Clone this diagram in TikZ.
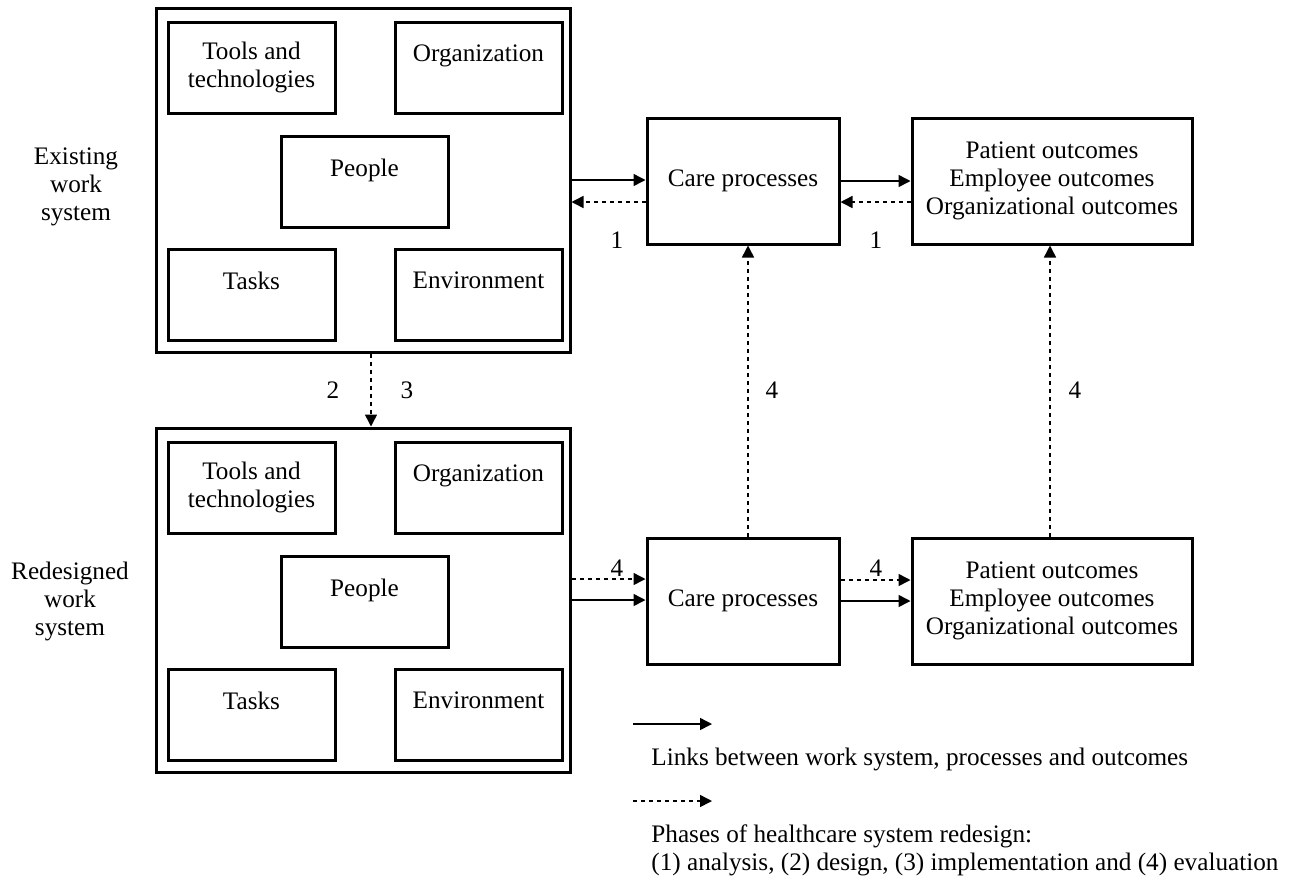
\documentclass[tikz,border=0pt]{standalone}
\usepackage{fontspec}
\setmainfont{Liberation Serif}
\usetikzlibrary{arrows.meta,calc,positioning}

\begin{document}
\begin{tikzpicture}[x=.5pt,y=-.5pt,>={Triangle[length=6pt,width=6pt]},
 outbox/.style={draw,line width=1.5pt,minimum width=207pt,minimum height=172pt,inner sep=0pt},
 inbox/.style={draw,line width=1.5pt,minimum width=83.5pt,minimum height=45.5pt,inner sep=0pt,align=center},
 procbox/.style={draw,line width=1.5pt,minimum width=96pt,minimum height=63pt,inner sep=0pt,align=center},
 outcbox/.style={draw,line width=1.5pt,minimum width=140pt,minimum height=63pt,inner sep=0pt,align=center},
 link/.style={->,line width=.75pt},
 phase/.style={->,line width=.75pt,dash pattern=on 2pt off 2pt},
 every node/.style={font=\fontsize{12.6}{14}\selectfont,inner sep=1pt}]
\useasboundingbox (0,0) rectangle (1295,879);
% existing work system
\node[outbox] (ews) at (363,180) {};
\node[inbox] (tools1) at (251.5,67.5) {Tools and\\technologies};
\node[inbox] (org1) at (478.5,67.5) {Organization\\~};
\node[inbox] (ppl1) at (364.5,181.5) {People\\~};
\node[inbox] (task1) at (251.5,294.5) {Tasks\\~};
\node[inbox] (env1) at (478.5,294.5) {Environment\\~};
\node[align=center] (ewslbl) at (76,187) {Existing\\work\\system};
% redesigned work system
\node[outbox] (rws) at (363,600) {};
\node[inbox] (tools2) at (251.5,487.5) {Tools and\\technologies};
\node[inbox] (org2) at (478.5,487.5) {Organization\\~};
\node[inbox] (ppl2) at (364.5,601.5) {People\\~};
\node[inbox] (task2) at (251.5,714.5) {Tasks\\~};
\node[inbox] (env2) at (478.5,714.5) {Environment\\~};
\node[align=center] (rwslbl) at (70,601) {Redesigned\\work\\system};
% processes and outcomes
\node[procbox] (care1) at (743,181) {Care processes};
\node[outcbox] (outc1) at (1052,181) {Patient outcomes\\Employee outcomes\\Organizational outcomes};
\node[procbox] (care2) at (743,601) {Care processes};
\node[outcbox] (outc2) at (1052,601) {Patient outcomes\\Employee outcomes\\Organizational outcomes};
% links
\draw[link] (ews.east) -- (ews.east -| care1.west);
\draw[phase] ([yshift=-10.5pt]care1.west) -- ([yshift=-10.5pt]care1.west -| ews.east);
\draw[link] (care1.east) -- (care1.east -| outc1.west);
\draw[phase] ([yshift=-10.5pt]outc1.west) -- ([yshift=-10.5pt]outc1.west -| care1.east);
\draw[phase] ([yshift=10.5pt]rws.east) -- ([yshift=10.5pt]rws.east -| care2.west);
\draw[link] (rws.east) -- (rws.east -| care2.west);
\draw[phase] ([yshift=10.5pt]care2.east) -- ([yshift=10.5pt]care2.east -| outc2.west);
\draw[link] (care2.east) -- (care2.east -| outc2.west);
\draw[phase] ([xshift=4pt]ews.south) -- ([xshift=4pt]rws.north);
\draw[phase] ([xshift=2.5pt]care2.north) -- ([xshift=2.5pt]care1.south);
\draw[phase] ([xshift=-1pt]outc2.north) -- ([xshift=-1pt]outc1.south);
% phase numbers
\node (n1a) at (617,240) {1};
\node (n1b) at (876,240) {1};
\node (n2) at (333,390) {2};
\node (n3) at (407,390) {3};
\node (n4a) at (772,390) {4};
\node (n4b) at (1075,390) {4};
\node (n4c) at (617,568) {4};
\node (n4d) at (876,568) {4};
% legend
\coordinate (lgA) at (633,724);
\coordinate (lgB) at (712,724);
\coordinate (lgC) at (633,801);
\coordinate (lgD) at (712,801);
\draw[link] (lgA) -- (lgB);
\draw[phase] (lgC) -- (lgD);
\node[anchor=west] (lgtxt1) at (649,759) {Links between work system, processes and outcomes};
\node[anchor=west,align=left] (lgtxt2) at (649,850) {Phases of healthcare system redesign:\\(1) analysis, (2) design, (3) implementation and (4) evaluation};
\end{tikzpicture}
\end{document}
